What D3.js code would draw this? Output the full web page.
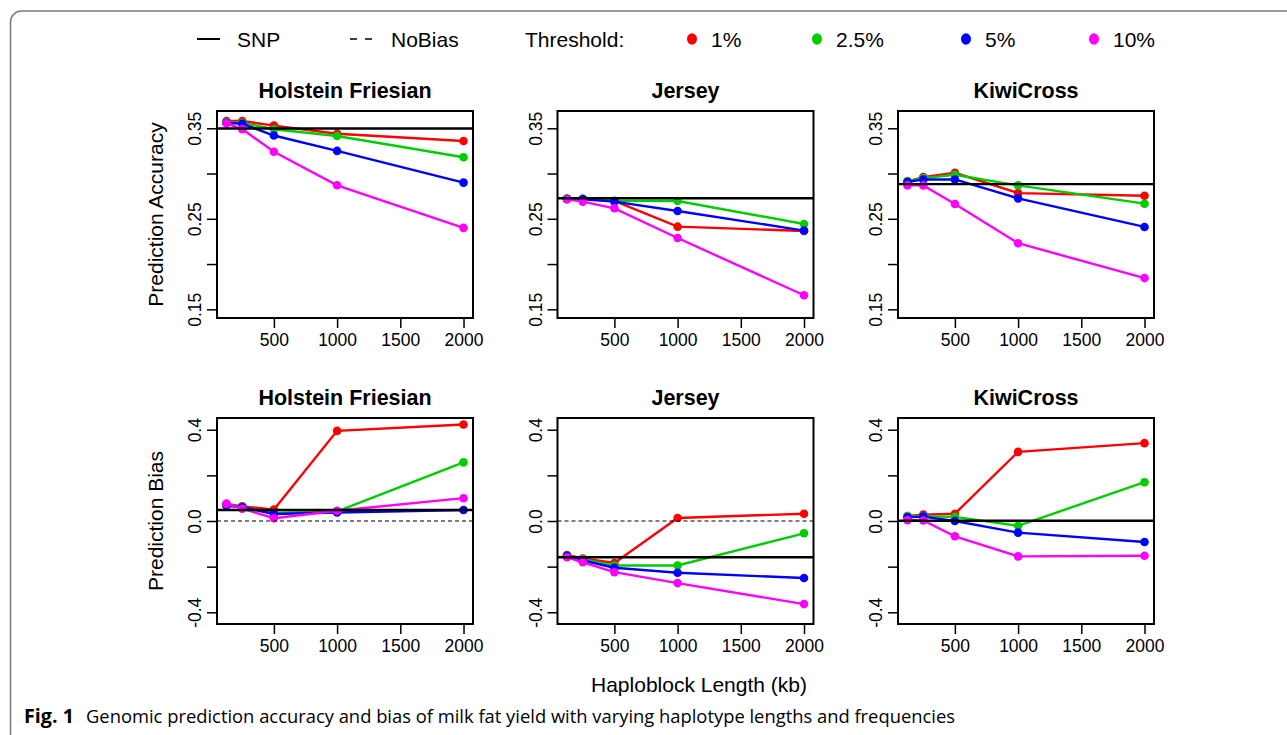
<!DOCTYPE html>
<html>
<head>
<meta charset="utf-8">
<script src="https://cdn.jsdelivr.net/npm/d3@7"></script>
<style>
  body { margin: 0; background: #fff; }
  text { font-family: "Liberation Sans", Arial, sans-serif; fill: #000; }
</style>
</head>
<body>
<div id="root"></div>
<script>
"use strict";

const kb = [125, 250, 500, 1000, 2000];
const breeds = ["Holstein Friesian", "Jersey", "KiwiCross"];
const thresholds = ["1%", "2.5%", "5%", "10%"];
const colors = ["#ff0000", "#00cd00", "#0000ff", "#ff00ff"];

// rows: 1%, 2.5%, 5%, 10%
const accHF = [
  [0.358, 0.358, 0.353, 0.344, 0.336],
  [0.357, 0.356, 0.349, 0.3415, 0.318],
  [0.356, 0.355, 0.342, 0.325, 0.290],
  [0.3555, 0.349, 0.324, 0.287, 0.240],
];
const accJersey = [
  [0.272, 0.272, 0.2697, 0.2413, 0.2366],
  [0.272, 0.272, 0.270, 0.2697, 0.2443],
  [0.272, 0.2715, 0.269, 0.2586, 0.237],
  [0.2716, 0.269, 0.2616, 0.2288, 0.1655],
];
const accKiwi = [
  [0.2913, 0.296, 0.3008, 0.2784, 0.2755],
  [0.2917, 0.295, 0.2986, 0.2869, 0.2667],
  [0.2906, 0.2935, 0.2935, 0.2726, 0.241],
  [0.2869, 0.2869, 0.2663, 0.223, 0.1845],
];
const biasHF = [
  [0.075, 0.064, 0.050, 0.395, 0.423],
  [0.072, 0.061, 0.035, 0.042, 0.257],
  [0.067, 0.060, 0.031, 0.037, 0.048],
  [0.075, 0.054, 0.012, 0.045, 0.100],
];
const biasJersey = [
  [-0.149, -0.164, -0.184, 0.013, 0.032],
  [-0.151, -0.168, -0.195, -0.195, -0.054],
  [-0.152, -0.173, -0.205, -0.227, -0.250],
  [-0.159, -0.181, -0.224, -0.272, -0.364],
];
const biasKiwi = [
  [0.022, 0.028, 0.032, 0.303, 0.341],
  [0.022, 0.021, 0.018, -0.021, 0.170],
  [0.016, 0.019, 0.000, -0.051, -0.092],
  [0.004, 0.002, -0.067, -0.155, -0.152],
];
const snpAcc = [0.3497, 0.2727, 0.2883];
const snpBias = [0.048, -0.159, 0.001];

const accTicks = [0.15, 0.20, 0.25, 0.30, 0.35];
const accLabels = ["0.15", "", "0.25", "", "0.35"];
const biasTicks = [-0.4, -0.2, 0, 0.2, 0.4];
const biasLabels = ["-0.4", "", "0.0", "", "0.4"];
const xTicks = [500, 1000, 1500, 2000];

const width = 1287;
const height = 735;
const colLeft = [217, 557.5, 898];
const panelW = 256;
const rowTop = [111, 418];
const panelH = [207, 206];

const svg = d3.select("#root")
  .append("svg")
  .attr("width", width)
  .attr("height", height)
  .style("display", "block");

svg.append("rect")
  .attr("width", width).attr("height", height)
  .attr("fill", "#fff");

// outer frame
svg.append("rect")
  .attr("x", 10.5).attr("y", 11)
  .attr("width", 1400).attr("height", 800)
  .attr("rx", 11)
  .attr("fill", "none")
  .attr("stroke", "#7a7a7a")
  .attr("stroke-width", 1.5);

const rows = [
  { data: [accHF, accJersey, accKiwi], snp: snpAcc, domain: [0.1404, 0.3691], ticks: accTicks, labels: accLabels, label: "Prediction Accuracy", noBias: false },
  { data: [biasHF, biasJersey, biasKiwi], snp: snpBias, domain: [-0.4513, 0.4513], ticks: biasTicks, labels: biasLabels, label: "Prediction Bias", noBias: true },
];

rows.forEach((row, r) => {
  const top = rowTop[r];
  const h = panelH[r];

  svg.append("text")
    .attr("transform", `translate(163, ${top + h / 2}) rotate(-90)`)
    .attr("text-anchor", "middle")
    .style("font-size", "21px")
    .text(row.label);

  breeds.forEach((breed, c) => {
    const left = colLeft[c];
    const x = d3.scaleLinear().domain([50, 2075]).range([0, panelW]);
    const y = d3.scaleLinear().domain(row.domain).range([h, 0]);

    const g = svg.append("g").attr("transform", `translate(${left}, ${top})`);
    const clipId = `clip-${r}-${c}`;
    g.append("clipPath").attr("id", clipId)
      .append("rect").attr("width", panelW).attr("height", h);

    g.append("text")
      .attr("x", panelW / 2).attr("y", -13)
      .attr("text-anchor", "middle")
      .style("font-size", "21.5px")
      .style("font-weight", "bold")
      .text(breed);

    const line = d3.line().x((d, i) => x(kb[i])).y((d) => y(d));
    const plot = g.append("g").attr("clip-path", `url(#${clipId})`);

    row.data[c].forEach((series, s) => {
      plot.append("path")
        .datum(series)
        .attr("d", line)
        .attr("fill", "none")
        .attr("stroke", colors[s])
        .attr("stroke-width", 2.4);
      plot.selectAll(null)
        .data(series)
        .enter()
        .append("circle")
        .attr("cx", (d, i) => x(kb[i]))
        .attr("cy", (d) => y(d))
        .attr("r", 4.3)
        .attr("fill", colors[s]);
    });

    if (row.noBias) {
      plot.append("line")
        .attr("x1", 0).attr("x2", panelW)
        .attr("y1", y(0)).attr("y2", y(0))
        .attr("stroke", "#000")
        .attr("stroke-width", 1)
        .attr("stroke-dasharray", "4,3");
    }
    plot.append("line")
      .attr("x1", 0).attr("x2", panelW)
      .attr("y1", y(row.snp[c])).attr("y2", y(row.snp[c]))
      .attr("stroke", "#000")
      .attr("stroke-width", 2.4);

    const xAxis = g.append("g")
      .attr("transform", `translate(0, ${h})`)
      .call(d3.axisBottom(x).tickValues(xTicks).tickSize(10).tickPadding(6)
        .tickFormat(d3.format("d")));
    xAxis.select(".domain").remove();
    xAxis.selectAll("line").attr("stroke-width", 1.5);
    xAxis.selectAll("text")
      .style("font-size", "17.5px")
      .style("font-family", "'Liberation Sans', Arial, sans-serif")
      .attr("fill", "#000");

    const yAxis = g.append("g")
      .call(d3.axisLeft(y).tickValues(row.ticks).tickSize(10)
        .tickFormat((d, i) => row.labels[i]));
    yAxis.select(".domain").remove();
    yAxis.selectAll("line").attr("stroke-width", 1.5);
    yAxis.selectAll("text")
      .attr("x", null).attr("dy", null)
      .attr("transform", "translate(-16, 0) rotate(-90)")
      .attr("text-anchor", "middle")
      .style("font-size", "17.5px")
      .style("font-family", "'Liberation Sans', Arial, sans-serif")
      .attr("fill", "#000");

    g.append("rect")
      .attr("width", panelW).attr("height", h)
      .attr("fill", "none")
      .attr("stroke", "#000")
      .attr("stroke-width", 2);
  });
});

svg.append("text")
  .attr("x", 699).attr("y", 692)
  .attr("text-anchor", "middle")
  .style("font-size", "21px")
  .text("Haploblock Length (kb)");

// legend
const legend = svg.append("g");
legend.append("line")
  .attr("x1", 197).attr("x2", 220).attr("y1", 39).attr("y2", 39)
  .attr("stroke", "#000").attr("stroke-width", 2);
legend.append("text").attr("x", 237).attr("y", 47).style("font-size", "21px").text("SNP");
legend.append("line")
  .attr("x1", 350).attr("x2", 372).attr("y1", 39).attr("y2", 39)
  .attr("stroke", "#000").attr("stroke-width", 1.5)
  .attr("stroke-dasharray", "7,8");
legend.append("text").attr("x", 391).attr("y", 47).style("font-size", "21px").text("NoBias");
legend.append("text").attr("x", 525).attr("y", 47).style("font-size", "21px").text("Threshold:");

const legendX = [692, 817, 966, 1094];
thresholds.forEach((t, i) => {
  legend.append("ellipse")
    .attr("cx", legendX[i]).attr("cy", 39)
    .attr("rx", 5).attr("ry", 5.8)
    .attr("fill", colors[i]);
  legend.append("text")
    .attr("x", legendX[i] + 19).attr("y", 47)
    .style("font-size", "21px")
    .text(t);
});

// caption
const caption = svg.append("text")
  .attr("x", 24).attr("y", 723)
  .style("font-family", "'Open Sans', sans-serif")
  .style("font-size", "17.5px");
caption.append("tspan").style("font-weight", "bold").style("font-size", "19px")
  .attr("textLength", 50).attr("lengthAdjust", "spacingAndGlyphs")
  .text("Fig. 1");
caption.append("tspan").attr("x", 86)
  .attr("textLength", 869)
  .attr("lengthAdjust", "spacingAndGlyphs")
  .text("Genomic prediction accuracy and bias of milk fat yield with varying haplotype lengths and frequencies");
</script>
</body>
</html>
